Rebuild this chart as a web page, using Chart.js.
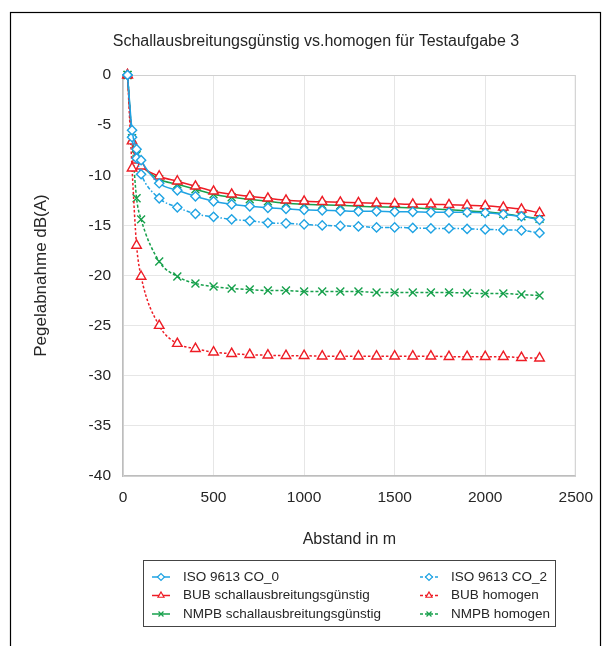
<!DOCTYPE html>
<html>
<head>
<meta charset="utf-8">
<script src="https://cdn.jsdelivr.net/npm/chart.js@4/dist/chart.umd.min.js"></script>
<style>
  html, body { margin: 0; padding: 0; background: #ffffff; }
  #wrap { position: relative; width: 605px; height: 646px; }
</style>
</head>
<body>
<div id="wrap"><canvas id="c" width="605" height="646"></canvas></div>
<script>
// ---- data ----
const distances = [25, 50, 75, 100, 200, 300, 400, 500, 600, 700, 800, 900, 1000,
  1100, 1200, 1300, 1400, 1500, 1600, 1700, 1800, 1900, 2000, 2100, 2200, 2300];

const isoCO0 = [0, -5.5, -7.4, -8.5, -10.8, -11.5, -12.1, -12.6, -12.9, -13.1, -13.25, -13.35, -13.45,
  -13.5, -13.55, -13.6, -13.6, -13.65, -13.65, -13.7, -13.7, -13.7, -13.75, -13.9, -14.1, -14.45];
const isoCO2 = [0, -6.2, -8.3, -9.9, -12.3, -13.2, -13.85, -14.15, -14.4, -14.55, -14.75, -14.8, -14.9,
  -15.0, -15.05, -15.1, -15.2, -15.2, -15.25, -15.3, -15.3, -15.35, -15.4, -15.45, -15.5, -15.75];
const bubGuenstig = [0, -6.6, -8.5, -9.1, -10.1, -10.6, -11.1, -11.6, -11.9, -12.1, -12.3, -12.5, -12.6,
  -12.65, -12.7, -12.75, -12.8, -12.85, -12.9, -12.9, -12.95, -13.0, -13.05, -13.2, -13.4, -13.75];
const bubHomogen = [0, -9.3, -17.0, -20.1, -25.0, -26.8, -27.3, -27.65, -27.8, -27.9, -27.95, -28.0, -28.0,
  -28.05, -28.05, -28.05, -28.05, -28.05, -28.05, -28.05, -28.1, -28.1, -28.1, -28.1, -28.2, -28.25];
const nmpbGuenstig = [0, -6.3, -8.0, -8.9, -10.4, -10.9, -11.4, -11.9, -12.2, -12.4, -12.6, -12.8, -12.9,
  -12.95, -13.0, -13.1, -13.15, -13.2, -13.25, -13.35, -13.45, -13.55, -13.65, -13.85, -14.1, -14.35];
const nmpbHomogen = [0, -6.5, -12.3, -14.4, -18.6, -20.1, -20.8, -21.1, -21.3, -21.4, -21.5, -21.5, -21.6,
  -21.6, -21.6, -21.6, -21.7, -21.7, -21.7, -21.7, -21.7, -21.75, -21.8, -21.8, -21.9, -22.0];

const seriesLabels = ['ISO 9613 CO_0', 'ISO 9613 CO_2', 'BUB schallausbreitungsgünstig',
  'BUB homogen', 'NMPB schallausbreitungsgünstig', 'NMPB homogen'];
const xTicks = [0, 500, 1000, 1500, 2000, 2500];
const yTicks = [0, -5, -10, -15, -20, -25, -30, -35, -40];
const chartTitle = 'Schallausbreitungsgünstig vs.homogen für Testaufgabe 3';
const xTitle = 'Abstand in m';
const yTitle = 'Pegelabnahme dB(A)';

// ---- styles ----
const BLUE = '#1fa3e3', RED = '#ee1c25', GREEN = '#16a04b';
const FONT = '"Liberation Sans", Arial, sans-serif';
const TXT = '#262626';

function pts(vals) { return distances.map((d, i) => ({x: d, y: vals[i]})); }

function ds(label, vals, color, dash, style, radius) {
  return {
    label, data: pts(vals),
    borderColor: color, backgroundColor: color,
    borderWidth: 1.5, borderDash: dash,
    pointStyle: style, pointRadius: radius, pointHoverRadius: radius,
    pointBorderColor: color, pointBackgroundColor: style === 'crossRot' ? color : '#ffffff',
    pointBorderWidth: 1.4,
    cubicInterpolationMode: 'monotone', fill: false, clip: false
  };
}

const datasets = [
  ds(seriesLabels[0], isoCO0, BLUE, [], 'rectRot', 4.6),
  ds(seriesLabels[1], isoCO2, BLUE, [4, 2, 1.5, 2], 'rectRot', 4.6),
  ds(seriesLabels[2], bubGuenstig, RED, [], 'triangle', 5.5),
  ds(seriesLabels[3], bubHomogen, RED, [2.5, 2], 'triangle', 5.5),
  ds(seriesLabels[4], nmpbGuenstig, GREEN, [], 'crossRot', 5.6),
  ds(seriesLabels[5], nmpbHomogen, GREEN, [3, 2], 'crossRot', 5.6)
];

const framePlugin = {
  id: 'frame',
  beforeDatasetsDraw(chart) {
    const {ctx, chartArea: a} = chart;
    ctx.save();
    ctx.strokeStyle = '#d0d0d0';
    ctx.lineWidth = 1;
    ctx.strokeRect(a.left + 0.5, a.top + 0.5, a.right - a.left - 1, a.bottom - a.top);
    ctx.restore();
  },
  afterDraw(chart) {
    const ctx = chart.ctx;
    ctx.save();
    // outer chart border
    ctx.strokeStyle = '#000000';
    ctx.lineWidth = 1.2;
    ctx.strokeRect(10.5, 12.5, 590, 700);
    // chart title
    ctx.font = '16px ' + FONT;
    ctx.fillStyle = TXT;
    ctx.textAlign = 'center';
    ctx.textBaseline = 'middle';
    ctx.fillText(chartTitle, 316, 42);
    // legend box
    const bx = 143.5, by = 560.5, bw = 412, bh = 66;
    ctx.strokeStyle = '#444444';
    ctx.lineWidth = 1;
    ctx.strokeRect(bx, by, bw, bh);
    const rows = [577, 595.5, 614];
    const cols = [{m: 161, t: 183}, {m: 429, t: 451}];
    ctx.font = '13.5px ' + FONT;
    ctx.textAlign = 'left';
    ctx.textBaseline = 'middle';
    chart.data.datasets.forEach((d, i) => {
      const col = cols[i % 2], row = rows[Math.floor(i / 2)];
      ctx.save();
      ctx.strokeStyle = d.borderColor;
      ctx.lineWidth = 1.5;
      ctx.setLineDash(d.borderDash && d.borderDash.length ? [3, 2] : []);
      ctx.beginPath();
      ctx.moveTo(col.m - 9, row);
      ctx.lineTo(col.m + 9, row);
      ctx.stroke();
      ctx.setLineDash([]);
      ctx.fillStyle = '#ffffff';
      ctx.lineWidth = 1.2;
      Chart.helpers.drawPoint(ctx, {
        pointStyle: d.pointStyle, radius: 3.5, borderWidth: 1.2, rotation: 0
      }, col.m, row);
      ctx.restore();
      ctx.fillStyle = TXT;
      ctx.fillText(d.label, col.t, row);
    });
    ctx.restore();
  }
};

new Chart(document.getElementById('c'), {
  type: 'line',
  data: { datasets },
  options: {
    responsive: false,
    animation: false,
    layout: { padding: { left: 10, right: 27, top: 75, bottom: 97 } },
    plugins: {
      legend: { display: false },
      tooltip: { enabled: false },
      title: { display: false }
    },
    scales: {
      x: {
        type: 'linear', min: 0, max: 2500,
        afterBuildTicks: s => { s.ticks = xTicks.map(v => ({value: v})); },
        afterFit: s => { s.height = 73; },
        grid: { color: '#e6e6e6', drawTicks: false },
        border: { color: '#bdbdbd', width: 1.5 },
        ticks: { color: TXT, padding: 12, font: { family: FONT, size: 15.5 }, maxRotation: 0,
                 callback: v => String(v) },
        title: { display: true, text: xTitle, color: TXT, font: { family: FONT, size: 16 }, padding: { top: 0, bottom: 0 } }
      },
      y: {
        type: 'linear', min: -40, max: 0,
        afterBuildTicks: s => { s.ticks = yTicks.map(v => ({value: v})); },
        afterFit: s => { s.width = 113; },
        grid: { color: '#e6e6e6', drawTicks: false },
        border: { color: '#bdbdbd', width: 1.5 },
        ticks: { color: TXT, padding: 12, font: { family: FONT, size: 15.5 }, callback: v => String(v) },
        title: { display: true, text: yTitle, color: TXT, font: { family: FONT, size: 17 }, padding: { top: 21, bottom: 0 } }
      }
    }
  },
  plugins: [framePlugin]
});
</script>
</body>
</html>
